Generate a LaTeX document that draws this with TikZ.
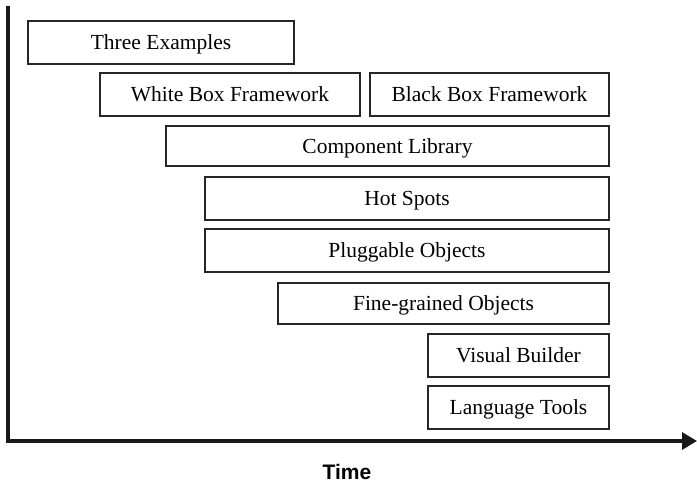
\documentclass[tikz,border=0pt]{standalone}
\usepackage{fontspec}
\setmainfont{Liberation Serif}
\newfontfamily\axisfont{Liberation Sans}
\usetikzlibrary{arrows.meta}
\begin{document}
\begin{tikzpicture}[x=1pt,y=-1pt,
  phase/.style={draw=black!85, line width=2.8pt, fill=white},
  phaselabel/.style={font=\fontsize{21.5}{24}\selectfont, inner sep=0pt, anchor=base},
  axisline/.style={draw=black!90, line width=3.2pt}]
\useasboundingbox (0,0) rectangle (697,485);
% phase boxes: name, corners, label
\newcommand{\phasebox}[6]{%
  \draw[phase] (#2,#3) rectangle (#4,#5);
  \node[phaselabel] (#1) at ({(#2+#4)/2},{(#3+#5)/2+7}) {#6};}
\phasebox{ex}{28}{21}{294}{64}{Three Examples}
\phasebox{wb}{100}{73}{360}{116}{White Box Framework}
\phasebox{bb}{370}{73}{609}{116}{Black Box Framework}
\phasebox{cl}{166}{126}{609}{166}{Component Library}
\phasebox{hs}{205}{177}{609}{220}{Hot Spots}
\phasebox{po}{205}{229}{609}{272}{Pluggable Objects}
\phasebox{fg}{278}{283}{609}{324}{Fine-grained Objects}
\phasebox{vb}{428}{334}{609}{377}{Visual Builder}
\phasebox{lt}{428}{386}{609}{429}{Language Tools}
% axes
\coordinate (top) at (8,8);
\coordinate (origin) at (8,441);
\coordinate (end) at (697,441);
\draw[axisline, line cap=rect] (top) -- (origin);
\draw[axisline, -{Triangle[length=15pt,width=17pt]}] (origin) -- (end);
\node[font=\axisfont\bfseries\fontsize{21}{24}\selectfont] (time) at (347,472) {Time};
\end{tikzpicture}
\end{document}
